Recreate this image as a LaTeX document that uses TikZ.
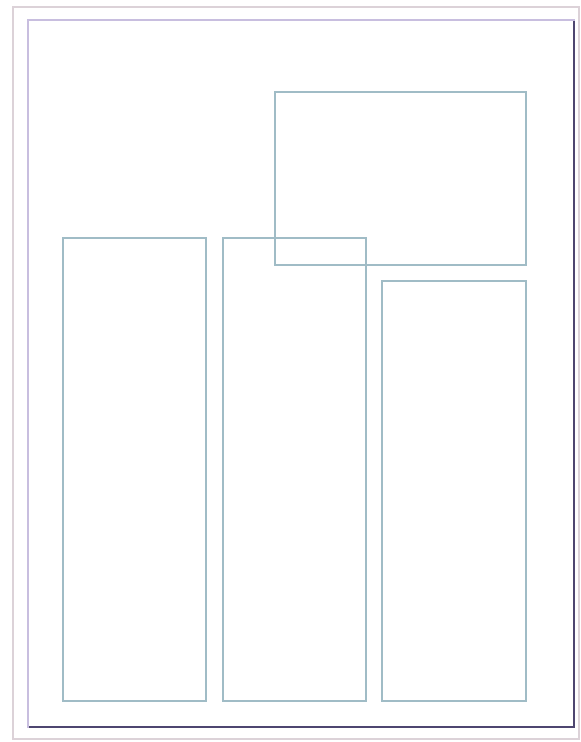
\documentclass[tikz,border=0pt]{standalone}
\usetikzlibrary{positioning}
\definecolor{panelblue}{HTML}{A0BCC6}
\definecolor{framegray}{HTML}{DCD2D8}
\definecolor{pagelav}{HTML}{C8BEDF}
\definecolor{pageshade}{HTML}{4E4670}
\begin{document}
\begin{tikzpicture}[x=0.75pt,y=-0.75pt,
  frame/.style={draw=framegray,line width=1pt,inner sep=0pt,outer sep=0pt,anchor=north west},
  page/.style={draw=pagelav,line width=1pt,inner sep=0pt,outer sep=0pt,anchor=north west},
  panel/.style={draw=panelblue,line width=1pt,inner sep=0pt,outer sep=0pt,anchor=north west},
  shade/.style={draw=pageshade,line width=1.7pt}]
  \useasboundingbox[fill=white] (0,0) rectangle (581,742);
  % outer frame and page sheet
  \node[frame,minimum width=566*0.75pt,minimum height=732*0.75pt] (sheet) at (13,7) {};
  \node[page,minimum width=546*0.75pt,minimum height=707*0.75pt] (pg) at (28,20) {};
  \draw[shade] ([yshift=-1pt]pg.north east) -- (pg.south east) -- ([xshift=1pt]pg.south west);
  % header panel
  \node[panel,minimum width=251*0.75pt,minimum height=173*0.75pt] (head) at (275,92) {};
  % three columns
  \node[panel,minimum width=143*0.75pt,minimum height=463*0.75pt] (colA) at (63,238) {};
  \node[panel,minimum width=143*0.75pt,minimum height=463*0.75pt,right=12.75pt of colA] (colB) {};
  \node[panel,minimum width=144*0.75pt,minimum height=420*0.75pt,right=12pt of colB.south east,anchor=south west] (colC) {};
\end{tikzpicture}
\end{document}
